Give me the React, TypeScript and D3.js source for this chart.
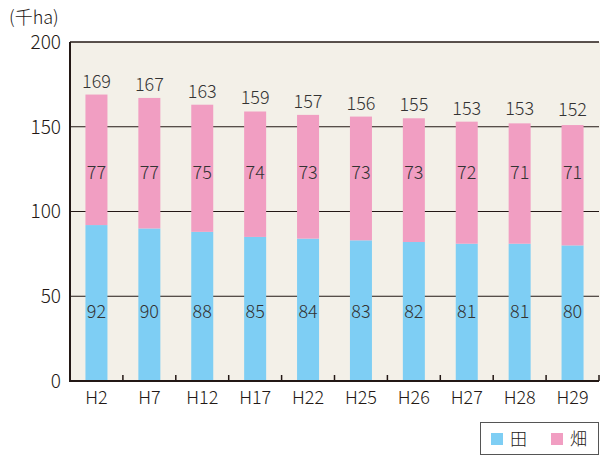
import React, { useEffect, useRef } from 'react'
import * as d3 from 'd3'

// 年次
const years = ['H2', 'H7', 'H12', 'H17', 'H22', 'H25', 'H26', 'H27', 'H28', 'H29']
// 田 (千ha)
const paddy = [92, 90, 88, 85, 84, 83, 82, 81, 81, 80]
// 畑 (千ha)
const upland = [77, 77, 75, 74, 73, 73, 73, 72, 71, 71]
// 合計
const totals = [169, 167, 163, 159, 157, 156, 155, 153, 153, 152]
const yTicks = [0, 50, 100, 150, 200]

const seriesNames = ['田', '畑']
const seriesColors = ['#7ECEF4', '#F19EC2']

const W = 600
const H = 455
const FONT = "'Noto Sans CJK JP', 'Noto Sans', sans-serif"

const App = () => {
  const svgRef = useRef(null)

  useEffect(() => {
    const svg = d3.select(svgRef.current)
    svg.selectAll('*').remove()

    const left = 70
    const right = 599
    const top = 42
    const bottom = 381

    const x = d3.scaleBand().domain(years).range([left, right]).paddingInner(0)
    const y = d3.scaleLinear().domain([0, 200]).range([bottom, top])
    const barW = 22

    // plot background
    svg
      .append('rect')
      .attr('x', left)
      .attr('y', top)
      .attr('width', W - left)
      .attr('height', bottom - top)
      .attr('fill', '#F3F0E8')

    // grid lines (behind bars)
    svg
      .selectAll('.grid')
      .data(yTicks.filter((t) => t > 0 && t < 200))
      .join('line')
      .attr('class', 'grid')
      .attr('x1', left)
      .attr('x2', right)
      .attr('y1', (d) => y(d))
      .attr('y2', (d) => y(d))
      .attr('stroke', '#231815')
      .attr('stroke-width', 1)

    // top border
    svg
      .append('line')
      .attr('x1', left)
      .attr('x2', right)
      .attr('y1', y(200))
      .attr('y2', y(200))
      .attr('stroke', '#231815')
      .attr('stroke-width', 1.5)

    // stacked bars
    const rows = years.map((yr, i) => ({ yr, paddy: paddy[i], upland: upland[i] }))
    const stack = d3.stack().keys(['paddy', 'upland'])(rows)

    stack.forEach((layer, li) => {
      svg
        .append('g')
        .selectAll('rect')
        .data(layer)
        .join('rect')
        .attr('x', (d) => x(d.data.yr) + x.bandwidth() / 2 - barW / 2)
        .attr('y', (d) => y(d[1]))
        .attr('width', barW)
        .attr('height', (d) => y(d[0]) - y(d[1]))
        .attr('fill', seriesColors[li])
    })

    // value labels inside bars (fixed rows)
    const labelRows = [
      { vals: paddy, at: 41 },
      { vals: upland, at: 123 },
    ]
    labelRows.forEach((r) => {
      svg
        .append('g')
        .selectAll('text')
        .data(r.vals)
        .join('text')
        .attr('x', (d, i) => x(years[i]) + x.bandwidth() / 2)
        .attr('y', y(r.at))
        .attr('dy', '0.36em')
        .attr('text-anchor', 'middle')
        .attr('font-family', FONT)
        .attr('font-weight', 300)
        .attr('font-size', 18)
        .attr('fill', '#333')
        .text((d) => d)
    })

    // totals above bars
    svg
      .append('g')
      .selectAll('text')
      .data(totals)
      .join('text')
      .attr('x', (d, i) => x(years[i]) + x.bandwidth() / 2)
      .attr('y', (d) => y(d) - 7)
      .attr('text-anchor', 'middle')
      .attr('font-family', FONT)
      .attr('font-weight', 300)
      .attr('font-size', 18)
      .attr('fill', '#333')
      .text((d) => d)

    // axes
    svg
      .append('line')
      .attr('x1', left)
      .attr('x2', left)
      .attr('y1', top)
      .attr('y2', bottom)
      .attr('stroke', '#231815')
      .attr('stroke-width', 2)
    svg
      .append('line')
      .attr('x1', left - 1)
      .attr('x2', right)
      .attr('y1', bottom)
      .attr('y2', bottom)
      .attr('stroke', '#231815')
      .attr('stroke-width', 2)

    // x ticks at band boundaries, pointing up
    svg
      .selectAll('.xtick')
      .data(years.slice(1).concat(['end']))
      .join('line')
      .attr('class', 'xtick')
      .attr('x1', (d) => (d === 'end' ? right : x(d)))
      .attr('x2', (d) => (d === 'end' ? right : x(d)))
      .attr('y1', bottom)
      .attr('y2', bottom - 6)
      .attr('stroke', '#231815')
      .attr('stroke-width', 1.5)

    // x labels
    svg
      .append('g')
      .selectAll('text')
      .data(years)
      .join('text')
      .attr('x', (d) => x(d) + x.bandwidth() / 2)
      .attr('y', bottom + 23)
      .attr('text-anchor', 'middle')
      .attr('font-family', FONT)
      .attr('font-weight', 300)
      .attr('font-size', 18)
      .attr('fill', '#231815')
      .text((d) => d)

    // y labels
    svg
      .append('g')
      .selectAll('text')
      .data(yTicks)
      .join('text')
      .attr('x', left - 9)
      .attr('y', (d) => y(d))
      .attr('dy', '0.36em')
      .attr('text-anchor', 'end')
      .attr('font-family', FONT)
      .attr('font-weight', 300)
      .attr('font-size', 19)
      .attr('fill', '#231815')
      .text((d) => d)

    // unit
    svg
      .append('text')
      .attr('x', 9)
      .attr('y', 24)
      .attr('font-family', FONT)
      .attr('font-weight', 300)
      .attr('font-size', 18)
      .attr('fill', '#231815')
      .text('(千ha)')

    // legend
    const lg = svg.append('g')
    lg.append('rect')
      .attr('x', 480.5)
      .attr('y', 422.5)
      .attr('width', 118)
      .attr('height', 32)
      .attr('fill', '#fff')
      .attr('stroke', '#555')
      .attr('stroke-width', 1)
    const legendX = [491, 551]
    seriesNames.forEach((name, i) => {
      lg.append('rect')
        .attr('x', legendX[i])
        .attr('y', 433)
        .attr('width', 12)
        .attr('height', 12)
        .attr('fill', seriesColors[i])
      lg.append('text')
        .attr('x', legendX[i] + 19)
        .attr('y', 439)
        .attr('dy', '0.36em')
        .attr('font-family', FONT)
        .attr('font-weight', 300)
        .attr('font-size', 17)
        .attr('fill', '#231815')
        .text(name)
    })
  }, [])

  return (
    <svg
      ref={svgRef}
      width={W}
      height={H}
      style={{ position: 'absolute', left: 0, top: 0, background: '#fff' }}
    />
  )
}

export default App
